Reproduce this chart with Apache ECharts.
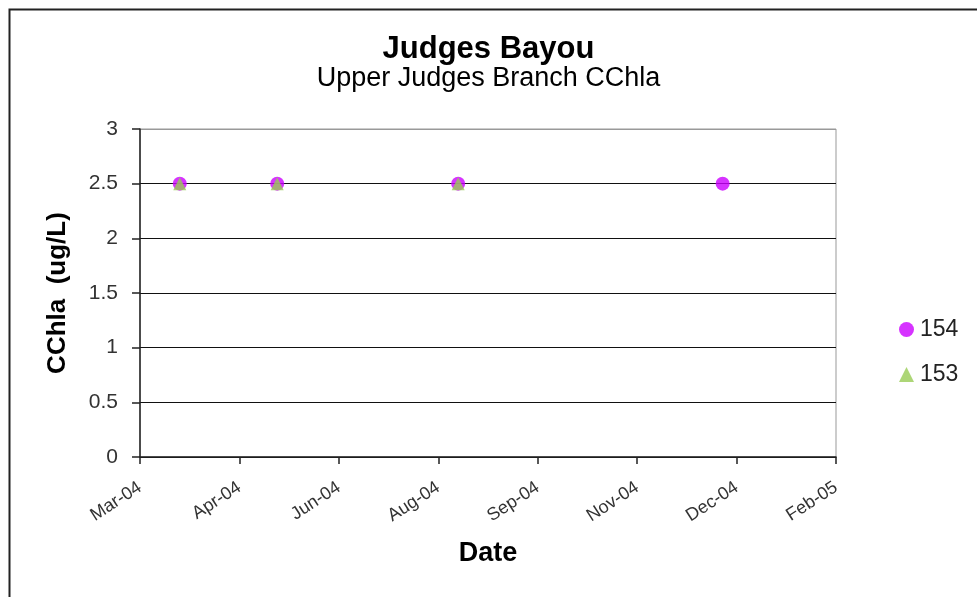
<!DOCTYPE html>
<html>
<head>
<meta charset="utf-8">
<script src="https://cdn.jsdelivr.net/npm/echarts@6/dist/echarts.min.js"></script>
<style>
html,body{margin:0;padding:0;background:#fff;}
#chart{width:977px;height:597px;}
</style>
</head>
<body>
<div id="chart"></div>
<script>
// Excel date serials (days since 1899-12-30)
const dates154 = [38070, 38119, 38210, 38343];
const values154 = [2.5, 2.5, 2.5, 2.5];
const dates153 = [38070, 38119, 38210];
const values153 = [2.5, 2.5, 2.5];
const seriesNames = ['154', '153'];
const xMin = 38050, xMax = 38400, xStep = 50;
const yMin = 0, yMax = 3, yStep = 0.5;
const monthNames = ['Jan','Feb','Mar','Apr','May','Jun','Jul','Aug','Sep','Oct','Nov','Dec'];

function serialToLabel(v) {
  const d = new Date(Date.UTC(1899, 11, 30) + v * 86400000);
  const yy = String(d.getUTCFullYear() % 100).padStart(2, '0');
  return monthNames[d.getUTCMonth()] + '-' + yy;
}

const font = '"Liberation Sans", Arial, sans-serif';
const chart = echarts.init(document.getElementById('chart'));
chart.setOption({
  animation: false,
  backgroundColor: '#fff',
  textStyle: { fontFamily: font },
  title: [
    {
      text: 'Judges Bayou',
      left: 'center',
      top: 34,
      padding: [0, 0, 0, 17],
      textStyle: { fontFamily: font, fontSize: 31, fontWeight: 'bold', color: '#000' }
    },
    {
      text: 'Upper Judges Branch CChla',
      left: 'center',
      top: 65,
      padding: [0, 0, 0, 38],
      textStyle: { fontFamily: font, fontSize: 27, fontWeight: 'normal', color: '#000' }
    }
  ],
  graphic: [{
    type: 'rect',
    shape: { x: 9.5, y: 9.5, width: 1000, height: 1000 },
    style: { fill: 'none', stroke: '#222', lineWidth: 2 },
    silent: true
  }],
  legend: {
    orient: 'vertical',
    left: 894,
    top: 313,
    itemGap: 22,
    itemWidth: 15,
    itemHeight: 15,
    textStyle: { fontFamily: font, fontSize: 23, color: '#222', padding: [0, 0, 0, 1] },
    data: [
      { name: seriesNames[0], icon: 'circle' },
      { name: seriesNames[1], icon: 'triangle' }
    ]
  },
  grid: {
    left: 140, right: 141, top: 129, bottom: 140,
    show: true, borderColor: '#999', borderWidth: 1
  },
  xAxis: {
    type: 'value',
    min: xMin, max: xMax, interval: xStep,
    name: 'Date',
    nameLocation: 'middle',
    nameGap: 83,
    nameTextStyle: { fontFamily: font, fontSize: 27, fontWeight: 'bold', color: '#000' },
    axisLine: { show: true, lineStyle: { color: '#222', width: 1.5 } },
    axisTick: { show: true, length: 7, lineStyle: { color: '#222', width: 1.5 } },
    splitLine: { show: false },
    axisLabel: {
      rotate: 33,
      margin: 29,
      fontFamily: font, fontSize: 18, color: '#333',
      formatter: serialToLabel
    }
  },
  yAxis: {
    type: 'value',
    min: yMin, max: yMax, interval: yStep,
    name: 'CChla  (ug/L)',
    nameLocation: 'middle',
    nameGap: 69,
    nameTextStyle: { fontFamily: font, fontSize: 26, fontWeight: 'bold', color: '#000' },
    axisLine: { show: true, lineStyle: { color: '#222', width: 1.5 } },
    axisTick: { show: true, inside: false, length: 8, lineStyle: { color: '#222', width: 1.5 } },
    splitLine: { show: true, lineStyle: { color: ['#111','#111','#111','#111','#111','#111','#999'], width: 1.2 } },
    axisLabel: {
      margin: 22,
      fontFamily: font, fontSize: 21, color: '#333',
      formatter: v => String(v)
    }
  },
  series: [
    {
      name: seriesNames[0],
      type: 'scatter',
      symbol: 'circle',
      symbolSize: 14,
      itemStyle: { color: '#CC00FF' },
      data: dates154.map((d, i) => [d, values154[i]])
    },
    {
      name: seriesNames[1],
      type: 'scatter',
      symbol: 'triangle',
      symbolSize: 13,
      itemStyle: { color: '#99CC55' },
      data: dates153.map((d, i) => [d, values153[i]])
    }
  ]
});
</script>
</body>
</html>
